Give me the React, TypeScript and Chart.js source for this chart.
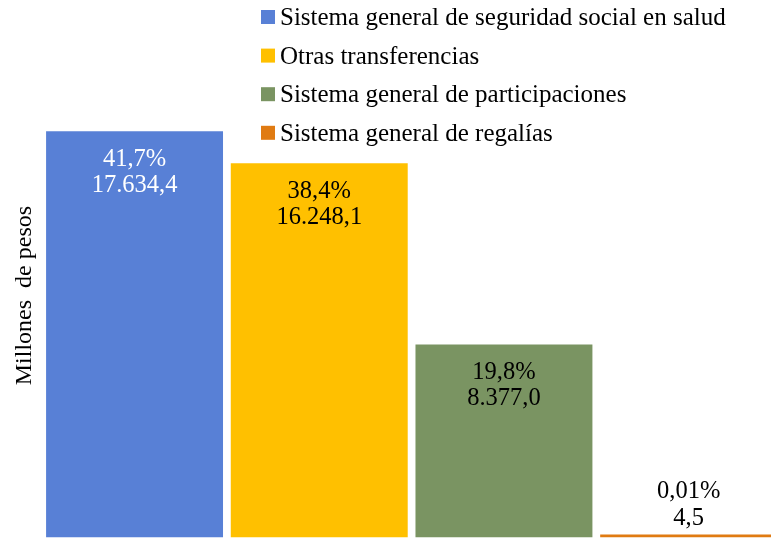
import React, { useEffect, useRef } from "react";
import { Chart, registerables } from "chart.js";

Chart.register(...registerables);

const categories = [
  "Sistema general de seguridad social en salud",
  "Otras transferencias",
  "Sistema general de participaciones",
  "Sistema general de regalías",
];
const values = [17634.4, 16248.1, 8377.0, 4.5];
const shares = ["41,7%", "38,4%", "19,8%", "0,01%"];
const colors = ["#5880D6", "#FFC000", "#7A9462", "#E07B12"];
const labelColors = ["#FFFFFF", "#000000", "#000000", "#000000"];
const yTitle = "Millones  de pesos";
const FONT = "'Liberation Serif', 'Times New Roman', serif";

function fmt(v: number): string {
  const [i, d] = v.toFixed(1).split(".");
  const withDots = i.replace(/\B(?=(\d{3})+(?!\d))/g, ".");
  return withDots + "," + d;
}

const labelPlugin = {
  id: "barLabels",
  afterDatasetsDraw(chart: any) {
    const ctx = chart.ctx;
    const meta = chart.getDatasetMeta(0);
    ctx.save();
    ctx.font = `24.5px ${FONT}`;
    ctx.textAlign = "center";
    ctx.textBaseline = "middle";
    meta.data.forEach((bar: any, i: number) => {
      const h = bar.base - bar.y;
      const lines = [shares[i], fmt(values[i])];
      if (h > 80) {
        ctx.fillStyle = labelColors[i];
        ctx.fillText(lines[0], bar.x, bar.y + 28);
        ctx.fillText(lines[1], bar.x, bar.y + 54);
      } else {
        ctx.fillStyle = "#000000";
        ctx.fillText(lines[0], bar.x, bar.y - 43);
        ctx.fillText(lines[1], bar.x, bar.y - 15.5);
      }
    });
    ctx.restore();
  },
};

const legendPlugin = {
  id: "overlayLegend",
  afterDraw(chart: any) {
    const ctx = chart.ctx;
    ctx.save();
    ctx.font = `25px ${FONT}`;
    ctx.textAlign = "left";
    ctx.textBaseline = "alphabetic";
    const x0 = 261;
    const y0 = 25;
    const step = 38.6;
    categories.forEach((c, i) => {
      const y = y0 + i * step;
      ctx.fillStyle = colors[i];
      ctx.fillRect(x0, y - 15, 14, 14);
      ctx.fillStyle = "#000000";
      ctx.fillText(c, x0 + 19, y);
    });
    ctx.restore();
  },
};

export default function App() {
  const ref = useRef<HTMLCanvasElement>(null);
  useEffect(() => {
    document.body.style.margin = "0";
    const chart = new Chart(ref.current!, {
      type: "bar",
      data: {
        labels: categories,
        datasets: [
          {
            data: values,
            backgroundColor: colors,
            barPercentage: 0.958,
            categoryPercentage: 1,
            minBarLength: 3,
          },
        ],
      },
      options: {
        animation: false,
        responsive: false,
        layout: { padding: { left: 0, top: 53.7, right: 9, bottom: 0.5 } },
        plugins: { legend: { display: false }, tooltip: { enabled: false } },
        scales: {
          x: { display: false },
          y: {
            min: 0,
            max: 21000,
            grid: { display: false, drawTicks: false },
            border: { display: false },
            ticks: { display: false },
            title: {
              display: true,
              text: yTitle,
              color: "#000000",
              font: { family: FONT, size: 24 },
              padding: { top: 10, bottom: 3.4 },
            },
          },
        },
      },
      plugins: [labelPlugin, legendPlugin],
    });
    return () => chart.destroy();
  }, []);
  return (
    <div style={{ width: 771, height: 538, overflow: "hidden", background: "#fff" }}>
      <canvas ref={ref} width={790} height={538} style={{ display: "block" }} />
    </div>
  );
}
